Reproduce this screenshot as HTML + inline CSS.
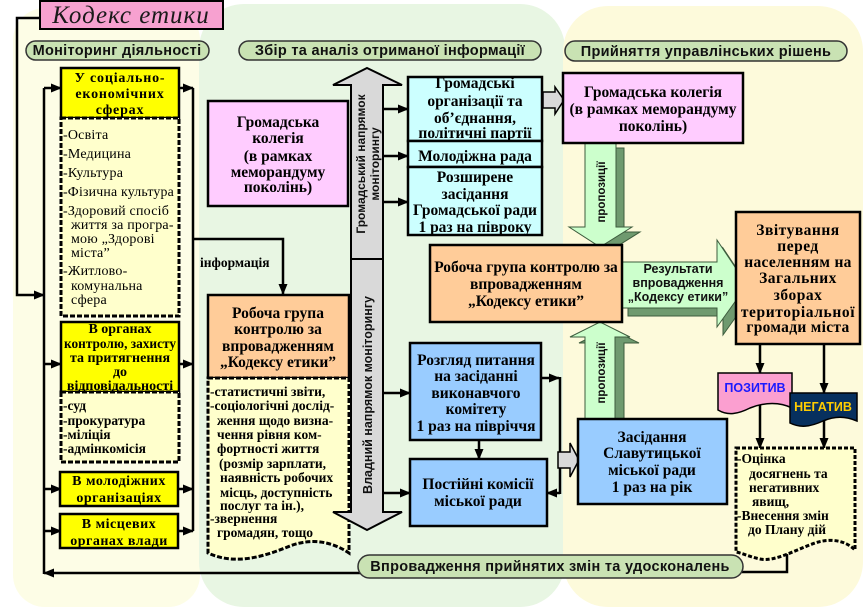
<!DOCTYPE html>
<html><head><meta charset="utf-8">
<style>
html,body{margin:0;padding:0;background:#fff;}
svg{display:block;}
.s{font-family:"Liberation Serif","DejaVu Serif",serif;font-weight:bold;font-size:15.5px;text-anchor:middle;fill:#000}
.y{font-family:"Liberation Serif","DejaVu Serif",serif;font-weight:bold;font-size:14px;text-anchor:middle;fill:#000}
.r{font-family:"Liberation Serif","DejaVu Serif",serif;font-size:14px;letter-spacing:0.2px;fill:#000}
.d{font-family:"Liberation Serif","DejaVu Serif",serif;font-weight:bold;font-size:13.5px;fill:#000}
.h{font-family:"Liberation Sans","DejaVu Sans",sans-serif;font-weight:bold;font-size:14.5px;text-anchor:middle;fill:#111;letter-spacing:0.3px}
.v{font-family:"Liberation Sans","DejaVu Sans",sans-serif;font-weight:bold;font-size:12px;text-anchor:middle;fill:#111}
.g{font-family:"Liberation Sans","DejaVu Sans",sans-serif;font-weight:bold;font-size:12.5px;text-anchor:middle;fill:#111}
</style></head><body>
<svg width="865" height="609" viewBox="0 0 865 609" xmlns="http://www.w3.org/2000/svg">
<defs>
<marker id="a" markerUnits="userSpaceOnUse" markerWidth="11" markerHeight="9" refX="10" refY="4.5" orient="auto"><path d="M0,0 L11,4.5 L0,9 Z" fill="#000"/></marker>
</defs>

<!-- background panels -->
<rect x="13" y="8" width="187" height="599" rx="32" fill="#fdfde6"/>
<rect x="199" y="4" width="366" height="603" rx="45" fill="#e8f6e3"/>
<rect x="563" y="6" width="300" height="601" rx="45" fill="#fdfadb"/>

<!-- title -->
<rect x="40" y="1" width="183" height="28" fill="#f7a1d0" stroke="#000" stroke-width="2"/>
<text x="131" y="23" text-anchor="middle" style="font-family:'Liberation Serif',serif;font-style:italic;font-size:25px;letter-spacing:1px;fill:#1a1a1a">Кодекс етики</text>

<!-- section pills -->
<rect x="26" y="41" width="183" height="19" rx="9.5" fill="#c9e2b3" stroke="#333" stroke-width="1.5"/>
<text class="h" x="117" y="55">Моніторинг діяльності</text>
<rect x="239" y="41" width="302" height="19" rx="9.5" fill="#c9e2b3" stroke="#333" stroke-width="1.5"/>
<text class="h" x="390" y="55">Збір та аналіз отриманої інформації</text>
<rect x="565" y="41" width="282" height="20" rx="10" fill="#c9e2b3" stroke="#333" stroke-width="1.5"/>
<text class="h" x="706" y="56">Прийняття управлінських рішень</text>

<!-- left connectors -->
<g stroke="#000" stroke-width="2.5" fill="none">
<polyline points="40,18 17,18 17,295 44,295" marker-end="url(#a)"/>
<line x1="44" y1="88" x2="44" y2="574"/>
<line x1="44" y1="88" x2="61" y2="88" marker-end="url(#a)"/>
<line x1="44" y1="364" x2="61" y2="364" marker-end="url(#a)"/>
<line x1="44" y1="489" x2="61" y2="489" marker-end="url(#a)"/>
<line x1="44" y1="531" x2="61" y2="531" marker-end="url(#a)"/>
<line x1="193" y1="88" x2="193" y2="531"/>
<line x1="179" y1="88" x2="193" y2="88" marker-end="url(#a)"/>
<line x1="179" y1="364" x2="193" y2="364" marker-end="url(#a)"/>
<line x1="178" y1="489" x2="193" y2="489" marker-end="url(#a)"/>
<line x1="178" y1="531" x2="193" y2="531" marker-end="url(#a)"/>
<polyline points="193,239 283,239 283,294" marker-end="url(#a)"/>
<line x1="360" y1="573" x2="44" y2="573" marker-end="url(#a)"/>
</g>
<text class="d" x="200" y="267">інформація</text>

<!-- left column boxes -->
<rect x="61" y="68" width="118" height="50" fill="#ffff00" stroke="#000" stroke-width="2.5"/>
<text class="y" x="120" y="82" style="letter-spacing:0.8px">У соціально-</text>
<text class="y" x="120" y="98" style="letter-spacing:0.8px">економічних</text>
<text class="y" x="120" y="114" style="letter-spacing:0.8px">сферах</text>

<rect x="61" y="118" width="118" height="198" fill="#ffffcc" stroke="#000" stroke-width="3" stroke-dasharray="5 2"/>
<text class="r" x="63" y="139">-Освіта</text>
<text class="r" x="63" y="158">-Медицина</text>
<text class="r" x="63" y="177">-Культура</text>
<text class="r" x="63" y="196" textLength="111" lengthAdjust="spacingAndGlyphs">-Фізична культура</text>
<text class="r" x="63" y="215">-Здоровий спосіб</text>
<text class="r" x="71" y="229">життя за програ-</text>
<text class="r" x="71" y="243">мою „Здорові</text>
<text class="r" x="71" y="257">міста”</text>
<text class="r" x="63" y="275">-Житлово-</text>
<text class="r" x="71" y="290">комунальна</text>
<text class="r" x="71" y="304">сфера</text>

<rect x="61" y="322" width="118" height="70" fill="#ffff00" stroke="#000" stroke-width="2.5"/>
<text class="y" x="120" y="333">В органах</text>
<text class="y" x="64" y="348" style="text-anchor:start" textLength="112" lengthAdjust="spacingAndGlyphs">контролю, захисту</text>
<text class="y" x="120" y="362">та притягнення</text>
<text class="y" x="120" y="376">до</text>
<text class="y" x="120" y="390">відповідальності</text>

<rect x="61" y="392" width="118" height="70" fill="#ffffcc" stroke="#000" stroke-width="3" stroke-dasharray="5 2"/>
<text class="d" x="63" y="410">-суд</text>
<text class="d" x="63" y="425">-прокуратура</text>
<text class="d" x="63" y="439">-міліція</text>
<text class="d" x="63" y="453">-адмінкомісія</text>

<rect x="60" y="472" width="118" height="34" fill="#ffff00" stroke="#000" stroke-width="2.5"/>
<text class="y" x="119" y="485" style="letter-spacing:0.5px">В молодіжних</text>
<text class="y" x="119" y="502" style="letter-spacing:0.5px">організаціях</text>
<rect x="60" y="514" width="118" height="34" fill="#ffff00" stroke="#000" stroke-width="2.5"/>
<text class="y" x="119" y="528" style="letter-spacing:0.5px">В місцевих</text>
<text class="y" x="119" y="545" style="letter-spacing:0.5px">органах влади</text>

<!-- middle column -->
<rect x="208" y="101" width="140" height="105" fill="#ffccff" stroke="#000" stroke-width="2.5"/>
<text class="s" x="278" y="127">Громадська</text>
<text class="s" x="278" y="143">колегія</text>
<text class="s" x="278" y="161">(в рамках</text>
<text class="s" x="278" y="177">меморандуму</text>
<text class="s" x="278" y="192">поколінь)</text>

<rect x="208" y="295" width="141" height="83" fill="#ffcc99" stroke="#000" stroke-width="2.5"/>
<text class="s" x="278" y="318">Робоча група</text>
<text class="s" x="278" y="334">контролю за</text>
<text class="s" x="278" y="351">впровадженням</text>
<text class="s" x="278" y="367">„Кодексу етики”</text>

<path d="M208,378 H349 V553 C331,541 311,538 290,546 C265,556 236,566 208,553 Z" fill="#ffffcc" stroke="#000" stroke-width="3" stroke-dasharray="5 2"/>
<text class="d" x="210" y="396">-статистичні звіти,</text>
<text class="d" x="210" y="410">-соціологічні дослід-</text>
<text class="d" x="217" y="425">ження щодо визна-</text>
<text class="d" x="217" y="439">чення рівня ком-</text>
<text class="d" x="217" y="453">фортності життя</text>
<text class="d" x="219" y="468">(розмір зарплати,</text>
<text class="d" x="220" y="482">наявність робочих</text>
<text class="d" x="220" y="497">місць, доступність</text>
<text class="d" x="220" y="510">послуг та ін.),</text>
<text class="d" x="210" y="523">-звернення</text>
<text class="d" x="217" y="537">громадян, тощо</text>

<!-- big double arrow -->
<polygon points="367,68 402,85 383,85 383,512 402,512 367,530 333,512 351,512 351,85 333,85" fill="#d9d9d9" stroke="#000" stroke-width="2"/>
<line x1="351" y1="259" x2="384" y2="259" stroke="#000" stroke-width="2"/>
<text class="v" transform="translate(365,164) rotate(-90)">Громадський напрямок</text>
<text class="v" transform="translate(379,164) rotate(-90)">моніторингу</text>
<text class="v" transform="translate(372,395) rotate(-90)" style="font-size:12.5px">Владний напрямок моніторингу</text>

<g stroke="#000" stroke-width="2.5" fill="none">
<line x1="383" y1="109" x2="408" y2="109" marker-end="url(#a)"/>
<line x1="383" y1="156" x2="408" y2="156" marker-end="url(#a)"/>
<line x1="383" y1="202" x2="408" y2="202" marker-end="url(#a)"/>
<line x1="383" y1="393" x2="410" y2="393" marker-end="url(#a)"/>
<line x1="383" y1="493" x2="410" y2="493" marker-end="url(#a)"/>
<line x1="479" y1="440" x2="479" y2="459" marker-end="url(#a)"/>
<line x1="541" y1="378" x2="559" y2="378" marker-end="url(#a)"/>
<line x1="560" y1="377" x2="560" y2="494"/>
<line x1="560" y1="493" x2="547" y2="493" marker-end="url(#a)"/>
</g>

<!-- cyan boxes -->
<rect x="408" y="77" width="134" height="64" fill="#ccffff" stroke="#000" stroke-width="2.5"/>
<text class="s" x="475" y="88">Громадські</text>
<text class="s" x="475" y="106">організації та</text>
<text class="s" x="475" y="123">об’єднання,</text>
<text class="s" x="475" y="138">політичні партії</text>
<rect x="408" y="141" width="134" height="26" fill="#ccffff" stroke="#000" stroke-width="2.5"/>
<text class="s" x="475" y="161">Молодіжна рада</text>
<rect x="408" y="167" width="134" height="68" fill="#ccffff" stroke="#000" stroke-width="2.5"/>
<text class="s" x="475" y="182">Розширене</text>
<text class="s" x="475" y="199">засідання</text>
<text class="s" x="475" y="215">Громадської ради</text>
<text class="s" x="475" y="232">1 раз на півроку</text>

<!-- gray small arrows -->
<polygon points="543,92 555,92 555,87 564,100 555,114 555,108 543,108" fill="#d9d9d9" stroke="#000" stroke-width="1.5"/>
<polygon points="558,452 570,452 570,443 579,460 570,477 570,468 558,468" fill="#d9d9d9" stroke="#000" stroke-width="1.5"/>

<!-- blue boxes -->
<rect x="410" y="343" width="131" height="97" fill="#99ccff" stroke="#000" stroke-width="2.5"/>
<text class="s" x="476" y="365">Розгляд питання</text>
<text class="s" x="476" y="381">на засіданні</text>
<text class="s" x="476" y="398">виконавчого</text>
<text class="s" x="476" y="414">комітету</text>
<text class="s" x="476" y="431">1 раз на півріччя</text>
<rect x="410" y="459" width="137" height="67" fill="#99ccff" stroke="#000" stroke-width="2.5"/>
<text class="s" x="478" y="489">Постійні комісії</text>
<text class="s" x="478" y="506">міської ради</text>

<!-- green 3D arrows -->
<g fill="#6f9a6f" stroke="#3d5c3d" stroke-width="1">
<polygon points="593,148 624,148 624,232 640,232 608,252 577,232 593,232"/>
<polygon points="594,425 624,425 624,343 639,343 609,328 579,343 594,343"/>
<polygon points="628,270 723,270 723,248 753,293 723,335 723,316 628,316"/>
</g>
<g fill="#ccffcc" stroke="#3d5c3d" stroke-width="1">
<polygon points="585,143 616,143 616,227 632,227 600,247 569,227 585,227"/>
<polygon points="585,419 615,419 615,337 630,337 600,322 570,337 585,337"/>
<polygon points="622,262 717,262 717,240 747,285 717,327 717,308 622,308"/>
</g>
<text class="v" transform="translate(605,192) rotate(-90)" style="font-size:11.5px">пропозиції</text>
<text class="v" transform="translate(605,373) rotate(-90)" style="font-size:11.5px">пропозиції</text>
<text class="g" x="678" y="273">Результати</text>
<text class="g" x="678" y="287">впровадження</text>
<text class="g" x="678" y="301">„Кодексу етики”</text>

<!-- center orange -->
<rect x="430" y="245" width="192" height="77" fill="#ffcc99" stroke="#000" stroke-width="2.5"/>
<text class="s" x="526" y="272">Робоча група контролю за</text>
<text class="s" x="526" y="289">впровадженням</text>
<text class="s" x="526" y="306">„Кодексу етики”</text>

<!-- right pink -->
<rect x="563" y="73" width="180" height="70" fill="#ffccff" stroke="#000" stroke-width="2.5"/>
<text class="s" x="653" y="97">Громадська колегія</text>
<text class="s" x="653" y="114">(в рамках меморандуму</text>
<text class="s" x="653" y="131">поколінь)</text>

<!-- Засідання -->
<rect x="578" y="419" width="149" height="85" fill="#99ccff" stroke="#000" stroke-width="2.5"/>
<text class="s" x="652" y="442">Засідання</text>
<text class="s" x="652" y="458">Славутицької</text>
<text class="s" x="652" y="475">міської ради</text>
<text class="s" x="652" y="492">1 раз на рік</text>

<!-- Звітування -->
<rect x="736" y="212" width="124" height="132" fill="#ffcc99" stroke="#000" stroke-width="2.5"/>
<text class="s" x="798" y="235" style="letter-spacing:0.5px">Звітування</text>
<text class="s" x="798" y="251" style="letter-spacing:0.5px">перед</text>
<text class="s" x="798" y="267" style="letter-spacing:0.3px">населенням на</text>
<text class="s" x="798" y="283" style="letter-spacing:0.5px">Загальних</text>
<text class="s" x="798" y="300" style="letter-spacing:0.5px">зборах</text>
<text class="s" x="798" y="317" style="letter-spacing:0.6px">територіальної</text>
<text class="s" x="798" y="332" style="letter-spacing:0.3px">громади міста</text>

<!-- right connectors -->
<g stroke="#000" stroke-width="2.5" fill="none">
<line x1="760" y1="344" x2="760" y2="373" marker-end="url(#a)"/>
<line x1="824" y1="344" x2="824" y2="393" marker-end="url(#a)"/>
<line x1="760" y1="405" x2="760" y2="448" marker-end="url(#a)"/>
<line x1="824" y1="420" x2="824" y2="448" marker-end="url(#a)"/>
<polyline points="787,553 787,572 742,572"/>
</g>

<!-- ПОЗИТИВ / НЕГАТИВ -->
<path d="M718,373 H792 V408 C780,402 765,402 750,408 C738,414 728,416 718,410 Z" fill="#fb9fd0" stroke="#000" stroke-width="1.5"/>
<text x="755" y="392" text-anchor="middle" style="font-family:'Liberation Sans',sans-serif;font-weight:bold;font-size:12.5px;fill:#1a1aff">ПОЗИТИВ</text>
<path d="M790,393 H857 V421 C845,416 835,416 823,421 C810,427 800,428 790,423 Z" fill="#07305e" stroke="#000" stroke-width="1.5"/>
<text x="823" y="411" text-anchor="middle" style="font-family:'Liberation Sans',sans-serif;font-weight:bold;font-size:12.5px;fill:#ffcc00">НЕГАТИВ</text>

<!-- right doc -->
<path d="M736,448 H855 V550 C845,540 830,538 815,543 C795,550 775,562 760,559 C750,557 742,553 736,552 Z" fill="#ffffcc" stroke="#000" stroke-width="3" stroke-dasharray="4 2"/>
<text class="d" x="737" y="463">-Оцінка</text>
<text class="d" x="749" y="478">досягнень та</text>
<text class="d" x="749" y="492">негативних</text>
<text class="d" x="752" y="506">явищ,</text>
<text class="d" x="737" y="520">-Внесення змін</text>
<text class="d" x="748" y="534">до Плану дій</text>

<!-- bottom pill -->
<rect x="358" y="555" width="385" height="23" rx="11.5" fill="#c9e2b3" stroke="#333" stroke-width="1.5"/>
<text class="h" x="550" y="571">Впровадження прийнятих змін та удосконалень</text>
</svg>
</body></html>
